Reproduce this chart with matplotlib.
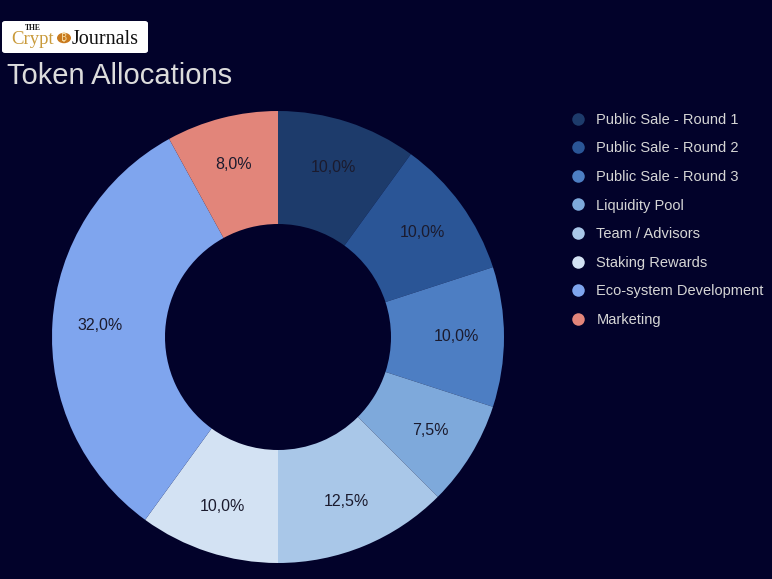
import matplotlib.pyplot as plt
from matplotlib.lines import Line2D
from matplotlib.patches import FancyBboxPatch, Circle

plt.rcParams['font.family'] = ['Liberation Sans', 'DejaVu Sans']

labels = ['Public Sale - Round 1', 'Public Sale - Round 2', 'Public Sale - Round 3',
          'Liquidity Pool', 'Team / Advisors', 'Staking Rewards',
          'Eco-system Development', 'Marketing']
values = [10.0, 10.0, 10.0, 7.5, 12.5, 10.0, 32.0, 8.0]
colors = ['#1d3b6b', '#2a5596', '#4d7ec3', '#7ea9db', '#a9c7e8', '#d3e2f3',
          '#7fa5ee', '#e2857a']

BG = '#02022a'
W, H = 772, 579

fig = plt.figure(figsize=(W / 100, H / 100), dpi=100, facecolor=BG)

# pie axes: centre (278, 337) px, radius 226 px
cx, cy, r = 278, 337, 226
ax = fig.add_axes([(cx - r) / W, (H - cy - r) / H, 2 * r / W, 2 * r / H])
ax.set_facecolor(BG)

def fmt(p):
    return f'{p:.1f}%'.replace('.', ',')

wedges, texts, autotexts = ax.pie(
    values, colors=colors, startangle=90, counterclock=False,
    autopct=fmt, pctdistance=0.79, radius=1.0,
    wedgeprops=dict(width=0.5, linewidth=0),
    textprops=dict(color='#1b1b2e', fontsize=11.5))
ax.set_xlim(-1, 1)
ax.set_ylim(-1, 1)
ax.set_aspect('equal')

# title
fig.text(7 / W, 1 - 76 / H, 'Token Allocations', color='#dcdcdc', fontsize=21,
         ha='left', va='center')

# logo box
logo = FancyBboxPatch((2 / W, 1 - 53 / H), 146 / W, 32 / H,
                      boxstyle='round,pad=0,rounding_size=0.004',
                      transform=fig.transFigure, facecolor='white',
                      edgecolor='none')
fig.patches.append(logo)
fig.text(25 / W, 1 - 28 / H, 'THE', fontsize=5.5, family='Liberation Serif',
         color='#111111', ha='left', va='center', weight='bold')
fig.text(11 / W, 1 - 40 / H, 'Crypt', fontsize=13.5, family='Liberation Serif',
         color='#c99a3a', ha='left', va='center')
fig.patches.append(Circle((64 / W, 1 - 38 / H), 7 / W, transform=fig.transFigure,
                          facecolor='#c97a1e', edgecolor='none'))
fig.text(64 / W, 1 - 38 / H, '₿', fontsize=7.5, color='#f3d9a0',
         ha='center', va='center', family=['Noto Sans', 'DejaVu Sans'])
fig.text(72 / W, 1 - 40 / H, 'Journals', fontsize=14.5, family='Liberation Serif',
         color='#111111', ha='left', va='center')

# legend
handles = [Line2D([], [], marker='o', linestyle='none', markersize=9,
                  markerfacecolor=c, markeredgecolor='none') for c in colors]
leg = fig.legend(handles, labels, loc='upper left',
                 bbox_to_anchor=(565 / W, 1 - 107 / H),
                 frameon=False, fontsize=10.5, labelcolor='#d6d6d6',
                 handletextpad=0.75, labelspacing=1.0, handlelength=1.0,
                 borderaxespad=0)

fig.savefig('out.png', dpi=100, facecolor=BG)
